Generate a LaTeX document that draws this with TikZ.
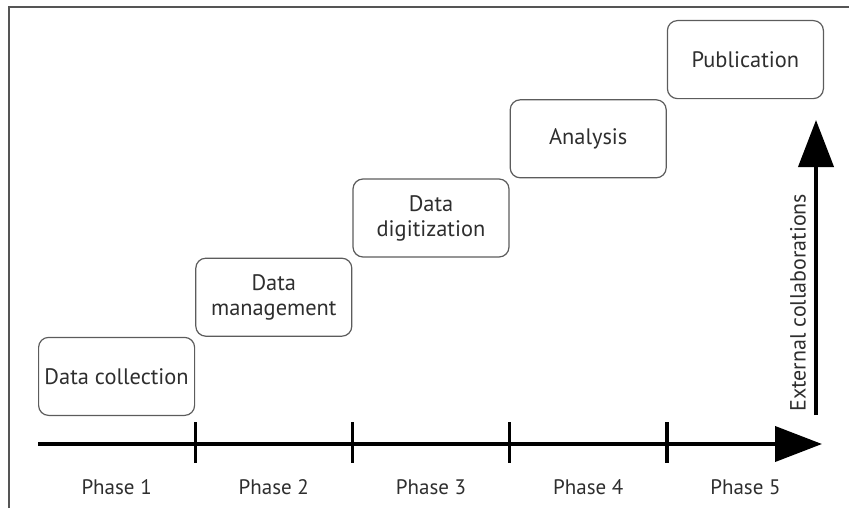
\documentclass[tikz,border=0pt]{standalone}
\usepackage{fontspec}
\setmainfont{PT Sans}
\usepackage{xcolor}
\definecolor{txtgray}{HTML}{2E2E2E}
\definecolor{boxgray}{HTML}{5C5C5C}
\definecolor{framegray}{HTML}{555555}
\usetikzlibrary{positioning}
\usetikzlibrary{arrows.meta}

\tikzset{
	phasebox/.style = {draw = boxgray, line width = 0.6pt, rounded corners = 5pt,
		minimum width = 78pt, minimum height = 39pt, inner sep = 0pt,
		align = center, text = txtgray, font = \fontsize{11.2}{12.5}\selectfont},
	phaselabel/.style = {text = txtgray, inner sep = 0pt, font = \fontsize{10.5}{12}\selectfont},
	timeline/.style = {line width = 2pt, -{Triangle[length = 23.5pt, width = 17.5pt]}},
	phasetick/.style = {line width = 1.7pt}
}

\begin{document}
\begin{tikzpicture}[x = 0.5pt, y = -0.5pt]

	\useasboundingbox (0,0) rectangle (849,508);

	\draw [framegray, line width = 0.8pt] 	(9,508) -- (9,7) -- (849,7);

	\node [phasebox, anchor = south west] (dc) at (38,416) {Data collection};
	\node [phasebox, anchor = south west] (dm) at (dc.north east) {Data\\management};
	\node [phasebox, anchor = south west] (dd) at (dm.north east) {Data\\digitization};
	\node [phasebox, anchor = south west] (an) at (dd.north east) {Analysis};
	\node [phasebox, anchor = south west] (pu) at (an.north east) {Publication};

	\coordinate (tstart) at (38,444);
	\coordinate (tend) at (822,444);
	\draw [timeline] 	(tstart) -- (tend);

	\foreach \b in {dc, dm, dd, an}
		\draw [phasetick] 	(\b.south east |- tstart) ++(0,-22) -- ++(0,41);

	\foreach \b/\n in {dc/1, dm/2, dd/3, an/4, pu/5}
		\node [phaselabel] (ph\n) at (\b.south |- 0,487) {Phase \n};

	\coordinate (cbot) at (816,415);
	\coordinate (ctop) at (816,120);
	\draw [timeline] 	(cbot) -- (ctop);
	\node [phaselabel, font = \fontsize{11}{12}\selectfont, rotate = 90, anchor = west] (ext) at (798,412) {External collaborations};

\end{tikzpicture}
\end{document}
